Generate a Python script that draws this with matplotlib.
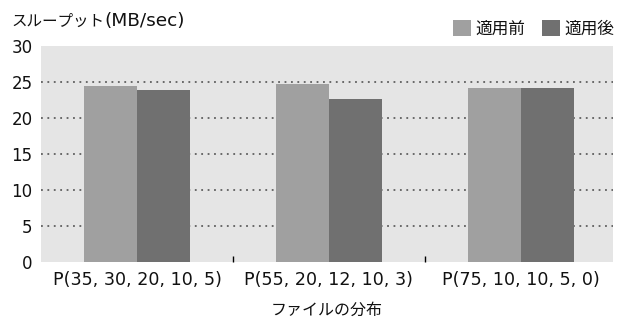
import matplotlib
matplotlib.use("Agg")
import matplotlib.pyplot as plt
import numpy as np

categories = ["P(35, 30, 20, 10, 5)", "P(55, 20, 12, 10, 3)", "P(75, 10, 10, 5, 0)"]
before = [24.4, 24.7, 24.2]
after = [23.9, 22.6, 24.2]
series_names = ["適用前", "適用後"]
yticks = [0, 5, 10, 15, 20, 25, 30]

FAM = ["DejaVu Sans", "Noto Sans CJK JP"]
CJK = ["Noto Sans CJK JP", "DejaVu Sans"]
plt.rcParams['font.family'] = FAM

W, H = 621, 327
fig = plt.figure(figsize=(W/100, H/100), dpi=100)
ax = fig.add_axes([41/W, 1-262/H, (613-41)/W, (262-46)/H])
ax.set_facecolor("#e5e5e5")

x = np.arange(len(categories))
w = 0.276
b1 = ax.bar(x - w/2, before, w, color="#a0a0a0", zorder=3, label=series_names[0])
b2 = ax.bar(x + w/2, after, w, color="#707070", zorder=3, label=series_names[1])

for y in yticks[1:-1]:
    ax.axhline(y, color="#5e5e5e", linewidth=1.3, linestyle=(0, (1, 2.55)), zorder=2)

ax.set_xlim(-0.5, 2.48)
ax.set_ylim(0, 30)
ax.set_yticks(yticks)
ax.set_yticklabels([str(v) for v in yticks], fontsize=12, color="#111111")
ax.set_xticks(x)
ax.set_xticklabels(categories, fontsize=12.6, color="#111111")
ax.tick_params(axis='x', which='major', length=0, pad=6.5)
ax.tick_params(axis='y', length=0, pad=6)
ax.set_xticks([0.5, 1.5], minor=True)
ax.tick_params(axis='x', which='minor', direction='in', length=4.5, width=1, color='black')
for s in ax.spines.values():
    s.set_visible(False)

ax.set_xlabel("ファイルの分布", fontsize=11.5, labelpad=9, family=CJK, color="#111111")
fig.text(11/W, 1-21/H, "スループット", fontsize=11.2, va="center", ha="left", family=CJK, color="#111111")
fig.text(104/W, 1-21/H, "(MB/sec)", fontsize=13.3, va="center", ha="left", family=FAM, color="#111111")

leg = fig.legend(handles=[b1, b2], labels=series_names, loc="center right",
                 bbox_to_anchor=(614/W, 1-29/H), ncol=2, frameon=False,
                 handlelength=1.08, handleheight=1.08,
                 handletextpad=0.25, columnspacing=1.0, borderaxespad=0, borderpad=0,
                 prop={'family': CJK, 'size': 12})
for t in leg.get_texts():
    t.set_color("#111111")

fig.savefig("out.png", dpi=100)
